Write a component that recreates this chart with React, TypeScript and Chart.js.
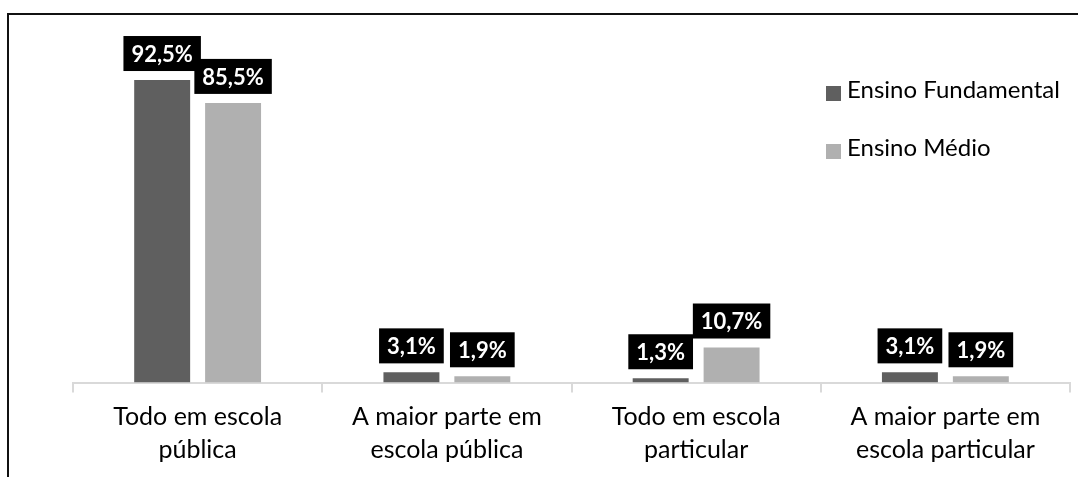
import React, { useEffect, useRef } from "react";
import { Chart, registerables } from "chart.js";

Chart.register(...registerables);

// Categories (two-line labels), series and their values
const categories: string[][] = [
  ["Todo em escola", "pública"],
  ["A maior parte em", "escola pública"],
  ["Todo em escola", "particular"],
  ["A maior parte em", "escola particular"],
];
const seriesNames = ["Ensino Fundamental", "Ensino Médio"];
const fundamental = [92.5, 3.1, 1.3, 3.1];
const medio = [85.5, 1.9, 10.7, 1.9];
const seriesColors = ["#5f5f5f", "#b0b0b0"];

const FONT = "Lato, 'Open Sans', sans-serif";

const fmtPct = (v: number) => v.toFixed(1).replace(".", ",") + "%";

// Black boxed value labels above each bar
const valueLabels = {
  id: "valueLabels",
  afterDatasetsDraw(chart: any) {
    const ctx = chart.ctx;
    ctx.save();
    ctx.font = `bold 22px ${FONT}`;
    ctx.textAlign = "center";
    ctx.textBaseline = "middle";
    chart.data.datasets.forEach((ds: any, di: number) => {
      const meta = chart.getDatasetMeta(di);
      meta.data.forEach((el: any, i: number) => {
        const text = fmtPct(ds.data[i]);
        const w = ctx.measureText(text).width + 16;
        const h = 35;
        const bottom = el.y - 9;
        ctx.fillStyle = "#000";
        ctx.fillRect(el.x - w / 2, bottom - h, w, h);
        ctx.fillStyle = "#fff";
        ctx.fillText(text, el.x, bottom - h / 2 + 1);
      });
    });
    ctx.restore();
  },
};

// Vertical legend in the upper right corner
const sideLegend = {
  id: "sideLegend",
  afterDraw(chart: any) {
    const ctx = chart.ctx;
    ctx.save();
    ctx.font = `24px ${FONT}`;
    ctx.textAlign = "left";
    ctx.textBaseline = "alphabetic";
    chart.data.datasets.forEach((ds: any, i: number) => {
      const base = 98 + i * 58;
      ctx.fillStyle = ds.backgroundColor;
      ctx.fillRect(826, base - 12, 15, 15);
      ctx.fillStyle = "#000";
      ctx.fillText(ds.label, 847, base);
    });
    ctx.restore();
  },
};

export default function App() {
  const ref = useRef<HTMLCanvasElement | null>(null);

  useEffect(() => {
    if (!ref.current) return;
    const chart = new Chart(ref.current, {
      type: "bar",
      data: {
        labels: categories,
        datasets: [
          {
            label: seriesNames[0],
            data: fundamental,
            backgroundColor: seriesColors[0],
            barPercentage: 0.789,
            categoryPercentage: 0.569,
          },
          {
            label: seriesNames[1],
            data: medio,
            backgroundColor: seriesColors[1],
            barPercentage: 0.789,
            categoryPercentage: 0.569,
          },
        ],
      },
      options: {
        responsive: false,
        animation: false,
        devicePixelRatio: 1,
        layout: { padding: { left: 73, right: 8, top: 55.5, bottom: 0 } },
        plugins: {
          legend: { display: false },
          tooltip: { enabled: false },
          title: { display: false },
        },
        scales: {
          x: {
            grid: {
              offset: true,
              drawOnChartArea: false,
              drawTicks: true,
              tickLength: 10,
              color: "#d9d9d9",
              lineWidth: 2,
            },
            border: { display: true, color: "#d9d9d9", width: 2 },
            ticks: {
              color: "#000",
              font: { family: FONT, size: 25, lineHeight: 1.32 },
              padding: 8,
              maxRotation: 0,
              autoSkip: false,
            },
            afterFit: (s: any) => {
              s.height = 94.5;
            },
          },
          y: { display: false, min: 0, max: 100 },
        },
      },
      plugins: [valueLabels, sideLegend],
    });
    return () => chart.destroy();
  }, []);

  return (
    <div
      style={{
        position: "fixed",
        left: 0,
        top: 0,
        width: 1078,
        height: 477,
        overflow: "hidden",
        background: "#fff",
      }}
    >
      <canvas
        ref={ref}
        width={1078}
        height={477}
        style={{ position: "absolute", left: 0, top: 0, width: 1078, height: 477 }}
      />
      <div
        style={{
          position: "absolute",
          left: 7,
          top: 13,
          width: 2000,
          height: 1000,
          borderLeft: "2px solid #111",
          borderTop: "2px solid #111",
          pointerEvents: "none",
        }}
      />
    </div>
  );
}
